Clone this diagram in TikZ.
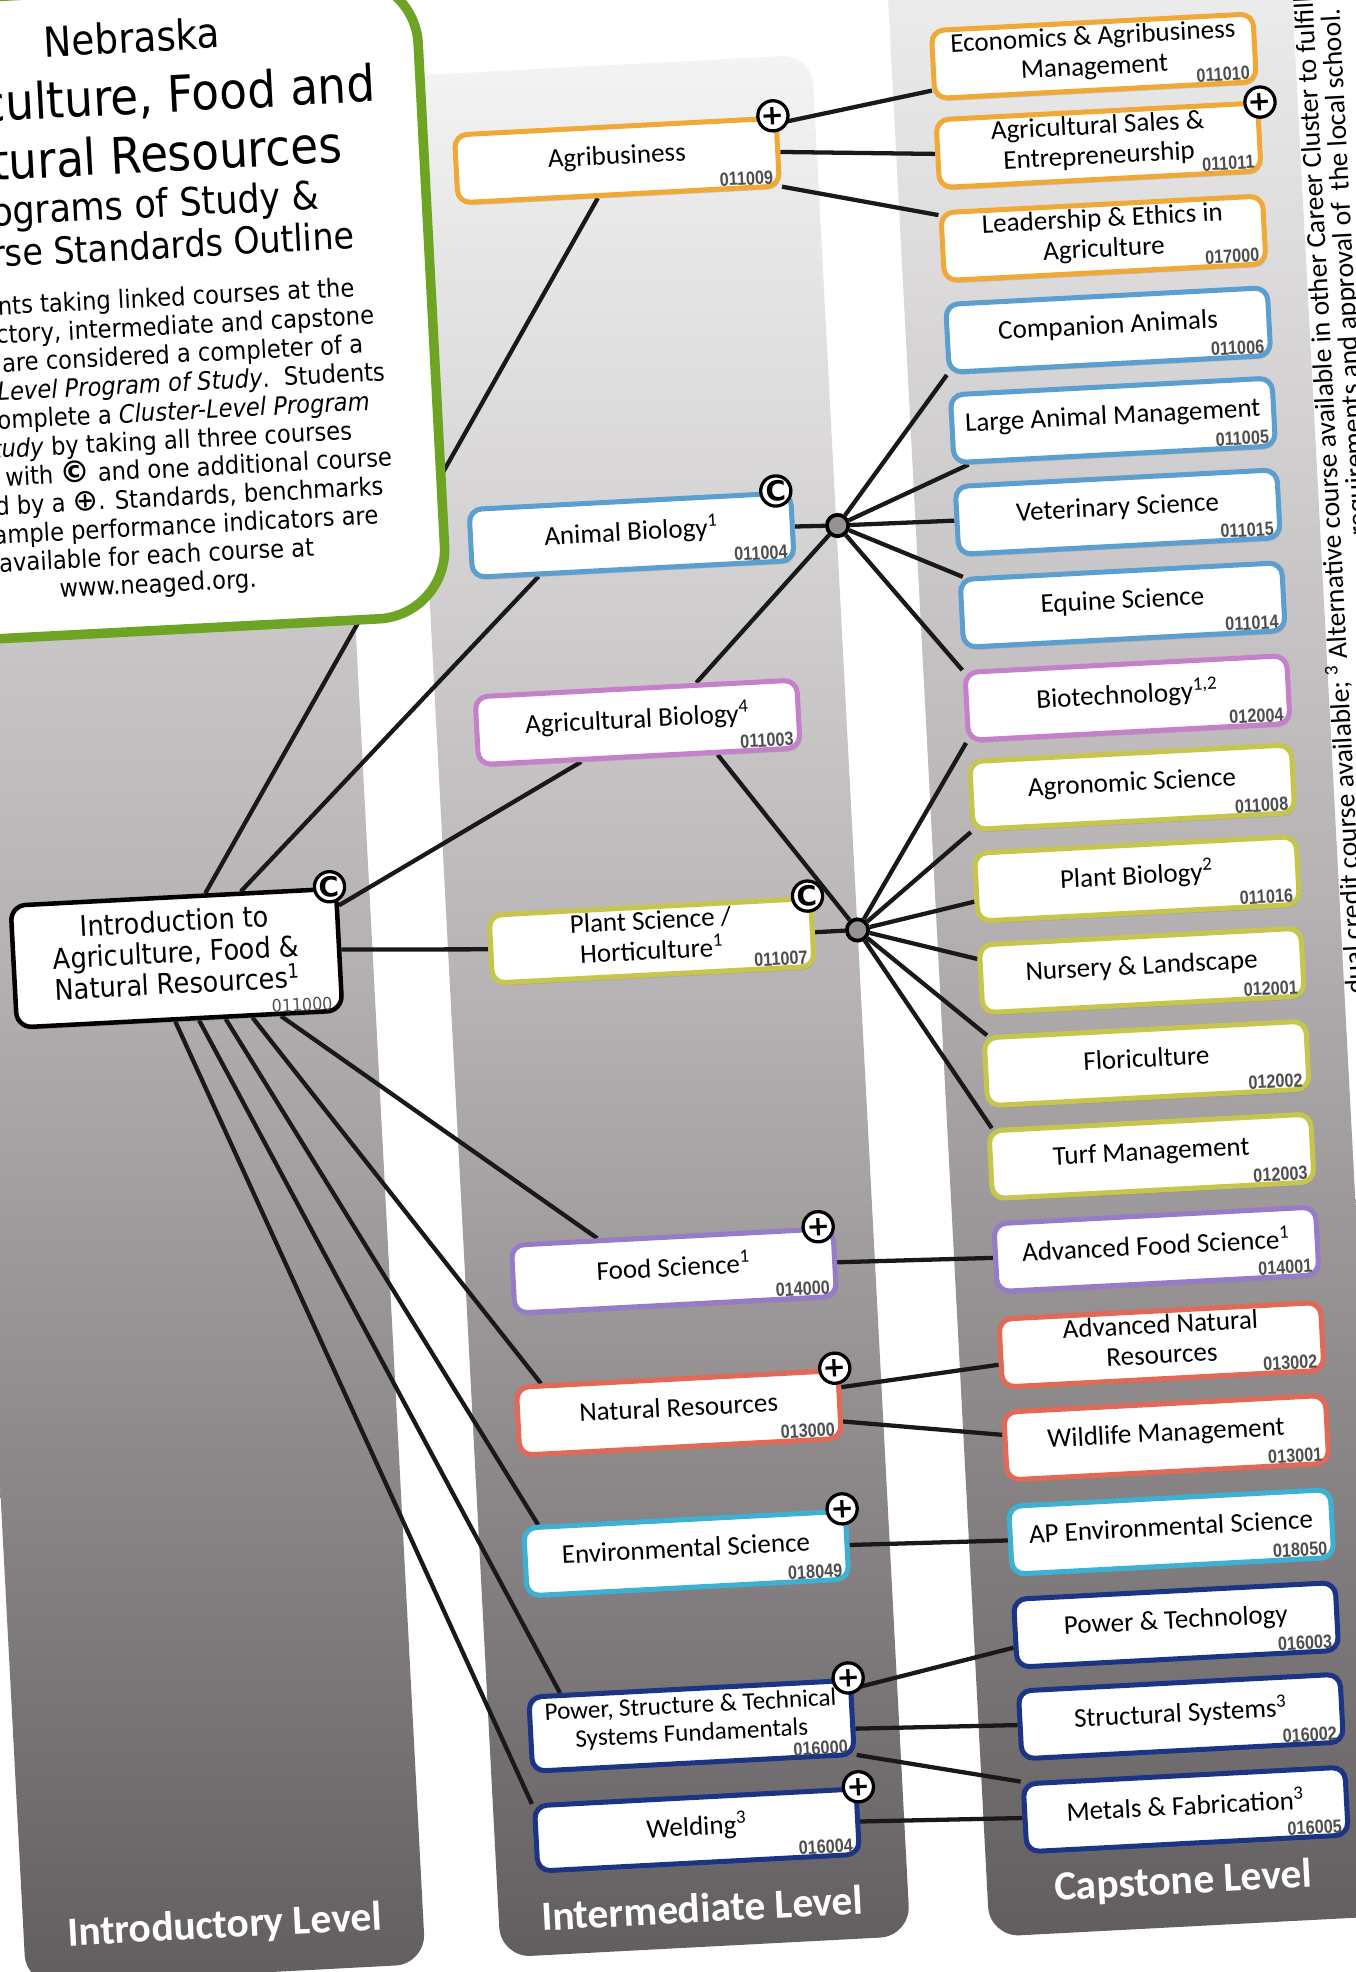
\documentclass[tikz,border=0pt]{standalone}
\usepackage{fontspec}
\usetikzlibrary{shadows}
\newfontfamily\ttlfont[FakeStretch=0.9]{DejaVu Sans}
\newfontfamily\boxfont{Carlito}
\newfontfamily\numfont[FakeStretch=0.85]{Liberation Sans}
\newfontfamily\dejafont{DejaVu Sans}
\definecolor{orangeC}{RGB}{240,168,56}
\definecolor{blueC}{RGB}{92,158,206}
\definecolor{pinkC}{RGB}{196,128,200}
\definecolor{lavC}{RGB}{150,124,200}
\definecolor{oliveC}{RGB}{198,198,78}
\definecolor{redC}{RGB}{226,104,88}
\definecolor{cyanC}{RGB}{62,176,210}
\definecolor{navyC}{RGB}{28,52,132}
\definecolor{greenC}{RGB}{110,164,36}
\definecolor{numC}{RGB}{78,78,78}
\definecolor{bandTop}{RGB}{244,244,244}
\definecolor{bandMid}{RGB}{182,177,179}
\definecolor{bandBot}{RGB}{98,94,95}
\definecolor{hubC}{RGB}{150,146,148}
\pgfdeclarelayer{bands}
\pgfdeclarelayer{lines}
\pgfsetlayers{bands,lines,main}
\newcommand{\circC}{{\dejafont\bfseries\fontsize{12}{12}\selectfont ©}}
\newcommand{\circP}{{\dejafont\fontsize{12}{12}\selectfont ⊕}}
\tikzset{
 box/.style={draw, line width=2pt, rounded corners=5pt, fill=white, minimum width=128pt, minimum height=27pt, inner sep=1pt, text depth=4.5pt, align=center, font=\boxfont\fontsize{10.75}{12}\selectfont, drop shadow={shadow xshift=0.6pt, shadow yshift=-1.2pt, opacity=0.3}},
 num/.style={anchor=south east, inner xsep=3.2pt, inner ysep=1.8pt, font=\numfont\bfseries\fontsize{7.6}{7.6}\selectfont, text=numC},
 mk/.style={circle, draw, line width=1.3pt, fill=white, inner sep=0pt, minimum size=12pt, text depth=0pt, font=\dejafont\bfseries\fontsize{11}{11}\selectfont},
 hub/.style={circle, draw, line width=1.5pt, fill=hubC, inner sep=0pt, minimum size=8.5pt},
 conn/.style={line width=1.7pt, black!90},
 band/.style={top color=bandTop, bottom color=bandBot, middle color=bandMid, rounded corners=12pt},
 lvl/.style={text=white, font=\boxfont\bfseries\fontsize{16.5}{16.5}\selectfont},
 ttl/.style={anchor=base, inner sep=0pt},
 para/.style={anchor=base, inner sep=0pt, font=\ttlfont\fontsize{10}{10}\selectfont},
 fn/.style={rotate=90, anchor=base east, inner sep=0pt, font=\boxfont\fontsize{11}{11}\selectfont},
}
\begin{document}
\begin{tikzpicture}[x=0.5pt,y=-0.5pt]
\useasboundingbox (0,0) rectangle (1078,1568);
\begin{scope}[rotate around={3:(539,784)}, transform shape]
\begin{pgfonlayer}{bands}
 \fill[white] (-100,-100) rectangle (1200,1700);
 \path[band] (-20,-80) rectangle (298,1550);
 \path[band] (358,50) rectangle (684,1548);
 \path[band] (747,-80) rectangle (1068,1552);
\end{pgfonlayer}

% title panel
\draw[greenC, line width=3.8pt, fill=white, rounded corners=27.5pt] (-110,-30) rectangle (372,480);
\node[ttl, font=\ttlfont\fontsize{16.5}{16.5}\selectfont] (t1) at (145,20) {Nebraska};
\node[ttl, font=\ttlfont\fontsize{20}{20}\selectfont] (t2) at (143,69) {Agriculture, Food and};
\node[ttl, font=\ttlfont\fontsize{20}{20}\selectfont] (t3) at (143,116) {Natural Resources};
\node[ttl, font=\ttlfont\fontsize{15.5}{15.5}\selectfont] (t4) at (143,152) {Programs of Study \&};
\node[ttl, font=\ttlfont\fontsize{14.75}{14.75}\selectfont] (t5) at (143,185) {Course Standards Outline};
\node[para] (p1) at (143,223) {Students taking linked courses at the};
\node[para] (p2) at (143,245.7) {introductory, intermediate and capstone};
\node[para] (p3) at (143,268.4) {levels are considered a completer of a};
\node[para] (p4) at (143,291.1) {\textit{Course-Level Program of Study}.\ \ Students};
\node[para] (p5) at (143,313.8) {may complete a \textit{Cluster-Level Program}};
\node[para] (p6) at (143,336.5) {\textit{of Study} by taking all three courses};
\node[para] (p7) at (143,359.2) {marked with \circC\ and one additional course};
\node[para] (p8) at (143,381.9) {marked by a \circP. Standards, benchmarks};
\node[para] (p9) at (143,404.6) {and sample performance indicators are};
\node[para] (p10) at (143,427.3) {available for each course at};
\node[para] (p11) at (143,450) {www.neaged.org.};

% introductory
\node[box, draw=black, line width=1.8pt, rounded corners=6pt, minimum width=129.5pt, minimum height=48.5pt, text depth=5pt, font=\ttlfont\fontsize{11.3}{12.4}\selectfont] (intro) at (142,741) {Introduction to\\Agriculture, Food \&\\Natural Resources\textsuperscript{1}};
\node[num, font=\ttlfont\fontsize{7}{7}\selectfont, inner xsep=4.5pt, inner ysep=1.2pt] (nintro) at (intro.south east) {011000};

% intermediate
\node[box, draw=orangeC] (agri) at (525,126) {Agribusiness};
\node[num] (nagri) at (agri.south east) {011009};
\node[box, draw=blueC] (anim) at (521,424) {Animal Biology\textsuperscript{1}};
\node[num] (nanim) at (anim.south east) {011004};
\node[box, draw=pinkC] (agbio) at (518,573) {Agricultural Biology\textsuperscript{4}};
\node[num] (nagbio) at (agbio.south east) {011003};
\node[box, draw=oliveC] (plant) at (520,747) {Plant Science /\\Horticulture\textsuperscript{1}};
\node[num] (nplant) at (plant.south east) {011007};
\node[box, draw=lavC] (food) at (524,1010) {Food Science\textsuperscript{1}};
\node[num] (nfood) at (food.south east) {014000};
\node[box, draw=redC] (natres) at (522,1123) {Natural Resources};
\node[num] (nnatres) at (natres.south east) {013000};
\node[box, draw=cyanC] (env) at (522,1235) {Environmental Science};
\node[num] (nenv) at (env.south east) {018049};
\node[box, draw=navyC, minimum height=29.5pt, text depth=6pt, font=\boxfont\fontsize{10}{11.2}\selectfont] (power) at (519,1372) {Power, Structure \& Technical\\Systems Fundamentals};
\node[num, inner ysep=1.3pt] (npower) at (power.south east) {016000};
\node[box, draw=navyC, minimum height=26pt] (weld) at (519,1455) {Welding\textsuperscript{3}};
\node[num] (nweld) at (weld.south east) {016004};

% capstone
\node[box, draw=orangeC] (econ) at (908,63) {Economics \& Agribusiness\\Management};
\node[num] (necon) at (econ.south east) {011010};
\node[box, draw=orangeC] (sales) at (908,134) {Agricultural Sales \&\\Entrepreneurship};
\node[num] (nsales) at (sales.south east) {011011};
\node[box, draw=orangeC] (lead) at (908,208) {Leadership \& Ethics in\\Agriculture};
\node[num] (nlead) at (lead.south east) {017000};
\node[box, draw=blueC] (comp) at (908,281) {Companion Animals};
\node[num] (ncomp) at (comp.south east) {011006};
\node[box, draw=blueC] (large) at (908,353) {Large Animal Management};
\node[num] (nlarge) at (large.south east) {011005};
\node[box, draw=blueC] (vet) at (908,426) {Veterinary Science};
\node[num] (nvet) at (vet.south east) {011015};
\node[box, draw=blueC] (equine) at (908,500) {Equine Science};
\node[num] (nequine) at (equine.south east) {011014};
\node[box, draw=pinkC] (biotech) at (908,574) {Biotechnology\textsuperscript{1,2}};
\node[num] (nbiotech) at (biotech.south east) {012004};
\node[box, draw=oliveC] (agron) at (908,645) {Agronomic Science};
\node[num] (nagron) at (agron.south east) {011008};
\node[box, draw=oliveC] (plantbio) at (908,718) {Plant Biology\textsuperscript{2}};
\node[num] (nplantbio) at (plantbio.south east) {011016};
\node[box, draw=oliveC] (nursery) at (908,791) {Nursery \& Landscape};
\node[num] (nnursery) at (nursery.south east) {012001};
\node[box, draw=oliveC] (flori) at (908,865) {Floriculture};
\node[num] (nflori) at (flori.south east) {012002};
\node[box, draw=oliveC] (turf) at (908,939) {Turf Management};
\node[num] (nturf) at (turf.south east) {012003};
\node[box, draw=lavC] (advfood) at (908,1013) {Advanced Food Science\textsuperscript{1}};
\node[num] (nadvfood) at (advfood.south east) {014001};
\node[box, draw=redC] (advnat) at (908,1089) {Advanced Natural\\Resources};
\node[num] (nadvnat) at (advnat.south east) {013002};
\node[box, draw=redC] (wild) at (908,1163) {Wildlife Management};
\node[num] (nwild) at (wild.south east) {013001};
\node[box, draw=cyanC] (apenv) at (908,1238) {AP Environmental Science};
\node[num] (napenv) at (apenv.south east) {018050};
\node[box, draw=navyC] (powtech) at (908,1312) {Power \& Technology};
\node[num] (npowtech) at (powtech.south east) {016003};
\node[box, draw=navyC] (struct) at (908,1385) {Structural Systems\textsuperscript{3}};
\node[num] (nstruct) at (struct.south east) {016002};
\node[box, draw=navyC] (metals) at (908,1459) {Metals \& Fabrication\textsuperscript{3}};
\node[num] (nmetals) at (metals.south east) {016005};

% hubs
\node[hub] (ahub) at (685,425) {};
\node[hub] (phub) at (684,747) {};

% markers
\node[mk] (mintro) at (intro.22) {C};
\node[mk] (magri) at (agri.13) {+};
\node[mk] (msales) at (sales.12) {+};
\node[mk] (manim) at (anim.14) {C};
\node[mk] (mplant) at (plant.13) {C};
\node[mk] (mfood) at (food.14) {+};
\node[mk] (mnat) at (natres.13) {+};
\node[mk] (menv) at (env.13) {+};
\node[mk] (mpow) at (power.14) {+};
\node[mk] (mweld) at (weld.12.5) {+};

% level labels
\node[lvl] (lv1) at (140,1512) {Introductory Level};
\node[lvl] (lv2) at (520,1517) {Intermediate Level};
\node[lvl] (lv3) at (903,1517) {Capstone Level};

% footnote
\node[fn] (fn1) at (1084,24) {dual credit course available; \textsuperscript{3} Alternative course available in other Career Cluster to fulfill};
\node[fn] (fn2) at (1105,35) {requirements and approval of\ \ the local school.};

\begin{pgfonlayer}{lines}
\draw[conn] (intro.63) -- (agri.-120);
\draw[conn] (intro.43) -- (anim.-159);
\draw[conn] (intro.15) -- (agbio.-148);
\draw[conn] (intro.east) -- (plant.west);
\draw[conn] (intro.-32) -- (food.154);
\draw[conn] (intro.-41) -- (natres.165);
\draw[conn] (intro.-54) -- (env.166);
\draw[conn] (intro.-73) -- (power.163);
\draw[conn] (intro.-94) -- (weld.168);
\draw[conn] (agri.10) -- (econ.189);
\draw[conn] (agri.east) -- (sales.west);
\draw[conn] (agri.-12) -- (lead.169);
\draw[conn] (anim.east) -- (ahub);
\draw[conn] (agbio.31) -- (ahub);
\draw[conn] (ahub) -- (comp.south west);
\draw[conn] (ahub) -- (large.-166);
\draw[conn] (ahub) -- (vet.west);
\draw[conn] (ahub) -- (equine.167);
\draw[conn] (ahub) -- (biotech.north west);
\draw[conn] (plant.east) -- (phub);
\draw[conn] (agbio.-25) -- (phub);
\draw[conn] (phub) -- (biotech.south west);
\draw[conn] (phub) -- (agron.south west);
\draw[conn] (phub) -- (plantbio.185);
\draw[conn] (phub) -- (nursery.173);
\draw[conn] (phub) -- (flori.167);
\draw[conn] (phub) -- (turf.167);
\draw[conn] (food.east) -- (advfood.west);
\draw[conn] (natres.6) -- (advnat.184);
\draw[conn] (natres.-6) -- (wild.176);
\draw[conn] (env.east) -- (apenv.west);
\draw[conn] (power.10) -- (powtech.185);
\draw[conn] (power.-4) -- (struct.west);
\draw[conn] (power.-13) -- (metals.north west);
\draw[conn] (weld.east) -- (metals.west);
\end{pgfonlayer}
\end{scope}
\end{tikzpicture}
\end{document}
